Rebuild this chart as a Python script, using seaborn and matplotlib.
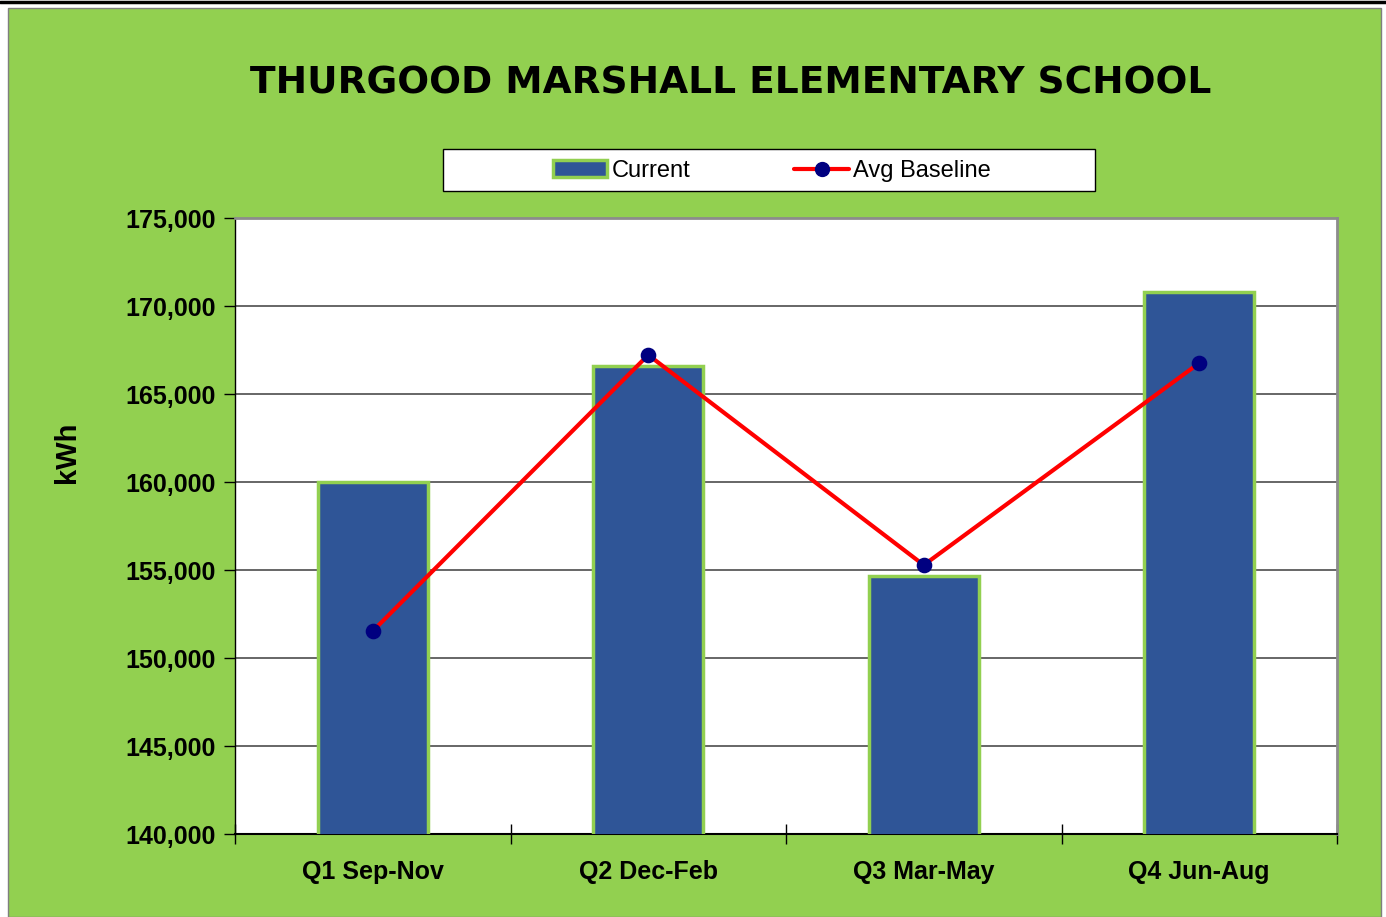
import pandas as pd
import matplotlib.pyplot as plt
import matplotlib.patches as mpatches
from matplotlib.lines import Line2D
from matplotlib.ticker import FuncFormatter, FixedLocator
import seaborn as sns

# ── Style ──────────────────────────────────────────────────────
sns.set_theme(style="white")
plt.rcParams.update({
    "font.family": ["Liberation Sans Narrow", "Liberation Sans", "DejaVu Sans"],
    "text.color": "black",
    "axes.labelcolor": "black",
    "xtick.color": "black",
    "ytick.color": "black",
})

GREEN = "#92D050"
BAR_BLUE = "#2F5597"
LINE_RED = "#FF0000"
MARKER_NAVY = "#000080"

# ── Data ───────────────────────────────────────────────────────
quarters = ["Q1 Sep-Nov", "Q2 Dec-Feb", "Q3 Mar-May", "Q4 Jun-Aug"]
current_kwh = [160000, 166600, 154650, 170800]
baseline_kwh = [151530, 167220, 155280, 166760]

df = pd.DataFrame({"quarter": quarters, "current": current_kwh, "baseline": baseline_kwh})

fig = plt.figure(figsize=(13.86, 9.17), dpi=100)
fig.patch.set_facecolor("white")

# green chart area with thin border, black rule on top
fig.patches.append(mpatches.Rectangle((8 / 1386, 0), 1373 / 1386, 909 / 917,
                                      transform=fig.transFigure, facecolor=GREEN,
                                      edgecolor="#7f7f7f", linewidth=1, zorder=-5))
fig.lines.append(Line2D([0, 1], [1 - 2 / 917, 1 - 2 / 917], transform=fig.transFigure,
                        color="black", linewidth=2.5, zorder=-4))
# legend box
fig.patches.append(mpatches.Rectangle((443 / 1386, 1 - 191 / 917), 652 / 1386, 42 / 917,
                                      transform=fig.transFigure, facecolor="white",
                                      edgecolor="black", linewidth=1, zorder=-3))

ax = fig.add_axes([235 / 1386, 83 / 917, 1102 / 1386, 616 / 917])
ax.set_facecolor("white")

sns.barplot(data=df, x="quarter", y="current", color=BAR_BLUE, saturation=1,
            width=0.4, edgecolor=GREEN, linewidth=2.5, ax=ax, zorder=3)
sns.pointplot(data=df, x="quarter", y="baseline", color=LINE_RED, markers="o",
              markersize=9, linewidth=3, ax=ax)
for ln in ax.lines:
    ln.set_markerfacecolor(MARKER_NAVY)
    ln.set_markeredgecolor(MARKER_NAVY)
    ln.set_zorder(4)

ax.set_ylim(140000, 175000)
ax.set_xlim(-0.5, 3.5)
ax.set_yticks(range(140000, 175001, 5000))
ax.yaxis.set_major_formatter(FuncFormatter(lambda v, p: f"{int(v):,}"))
ax.grid(axis="y", color="#4d4d4d", linewidth=1.2, zorder=0)
ax.set_axisbelow(True)

# category ticks between bars
ax.xaxis.set_major_locator(FixedLocator([-0.5, 0.5, 1.5, 2.5, 3.5]))
ax.xaxis.set_minor_locator(FixedLocator([0, 1, 2, 3]))
ax.set_xticklabels([])
ax.set_xticklabels(quarters, minor=True)
ax.tick_params(axis="x", which="major", direction="inout", length=14, width=1, color="black", bottom=True)
ax.tick_params(axis="x", which="minor", length=0, pad=19, labelsize=18)
ax.tick_params(axis="y", direction="out", length=8, width=1, color="black", left=True, labelsize=18, pad=6)
for lbl in ax.get_xticklabels(minor=True) + ax.get_yticklabels():
    lbl.set_fontweight("bold")

for side in ["top", "right"]:
    ax.spines[side].set_color("#8c8c8c")
    ax.spines[side].set_linewidth(2)
ax.spines["left"].set_color("black")
ax.spines["bottom"].set_color("black")
ax.spines["left"].set_linewidth(1)
ax.spines["bottom"].set_linewidth(1.5)

ax.set_xlabel("")
ax.set_ylabel("kWh", fontsize=21, fontweight="bold", family=["Liberation Sans", "DejaVu Sans"])
ax.yaxis.set_label_coords(-0.14, 0.62)

fig.text(731 / 1386, 1 - 84 / 917, "THURGOOD MARSHALL ELEMENTARY SCHOOL",
         ha="center", va="center", fontsize=27, fontweight="heavy",
         family=["DejaVu Sans"])

handles = [mpatches.Patch(facecolor=BAR_BLUE, edgecolor=GREEN, linewidth=2.5, label="Current"),
           Line2D([0], [0], color=LINE_RED, linewidth=3, marker="o", markersize=10,
                  markerfacecolor=MARKER_NAVY, markeredgecolor=MARKER_NAVY, label="Avg Baseline")]
fig.legend(handles=handles, loc="center", bbox_to_anchor=(772 / 1386, 1 - 171 / 917),
           ncol=2, frameon=False,
           prop={"family": ["Liberation Sans", "DejaVu Sans"], "size": 17},
           columnspacing=4.4, handlelength=2.3, handletextpad=0.2, borderaxespad=0)

fig.savefig("out.png", dpi=100)
